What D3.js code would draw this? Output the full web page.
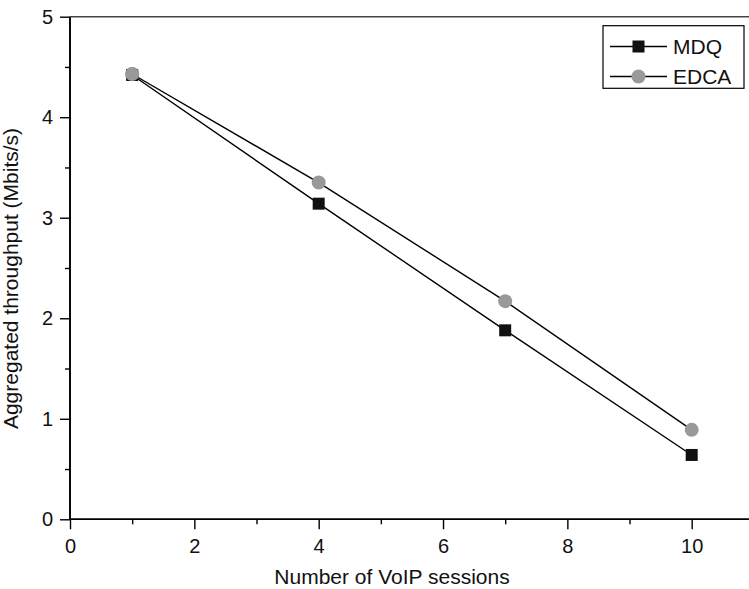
<!DOCTYPE html>
<html>
<head>
<meta charset="utf-8">
<script src="https://cdn.jsdelivr.net/npm/d3@7"></script>
<style>
  html, body { margin: 0; padding: 0; background: #fff; }
  svg { display: block; font-family: "Liberation Sans", Arial, Helvetica, sans-serif; }
</style>
</head>
<body>
<svg id="chart" width="749" height="589"></svg>
<script>
// Number of VoIP sessions
const sessions = [1, 4, 7, 10];
// Aggregated throughput (Mbits/s) per scheme
const mdq = [4.42, 3.14, 1.88, 0.64];
const edca = [4.43, 3.35, 2.17, 0.89];

const xMajorTicks = [0, 2, 4, 6, 8, 10];
const xMinorTicks = [1, 3, 5, 7, 9];
const yMajorTicks = [0, 1, 2, 3, 4, 5];
const yMinorTicks = [0.5, 1.5, 2.5, 3.5, 4.5];

const seriesNames = ["MDQ", "EDCA"];

const svg = d3.select("#chart");

const plotLeft = 70, plotTop = 16.7, plotBottom = 519.3;
const pxPerX = 62.17;
const x = d3.scaleLinear().domain([0, 11]).range([plotLeft, plotLeft + 11 * pxPerX]);
const y = d3.scaleLinear().domain([0, 5]).range([plotBottom, plotTop]);

const tickFont = 20;
const titleFont = 21;

// bottom axis
const gx = svg.append("g").attr("transform", `translate(0,${plotBottom})`);
gx.call(d3.axisBottom(x).tickValues(xMajorTicks).tickSize(10).tickPadding(10).tickFormat(d3.format("d")));
gx.append("g").call(d3.axisBottom(x).tickValues(xMinorTicks).tickSize(5).tickFormat(""));

// left axis
const gy = svg.append("g").attr("transform", `translate(${plotLeft},0)`);
gy.call(d3.axisLeft(y).tickValues(yMajorTicks).tickSize(10).tickPadding(7).tickFormat(d3.format("d")));
gy.append("g").call(d3.axisLeft(y).tickValues(yMinorTicks).tickSize(5).tickFormat(""));

svg.selectAll(".domain").attr("stroke", "#000").attr("stroke-width", 1.6);
svg.selectAll(".tick line").attr("stroke", "#000").attr("stroke-width", 1.4);
svg.selectAll(".tick text").attr("font-size", tickFont).attr("fill", "#111")
  .attr("font-family", "'Liberation Sans', Arial, sans-serif");
gx.selectAll(".domain").attr("d", `M${x(0)},0H${x(11)}`);
gy.selectAll(".domain").attr("d", `M0,${y(0)}V${y(5)}`);

// top frame line
svg.append("line")
  .attr("x1", x(0)).attr("x2", x(11))
  .attr("y1", y(5)).attr("y2", y(5))
  .attr("stroke", "#444").attr("stroke-width", 1.6);

// axis titles
svg.append("text")
  .attr("x", 392).attr("y", 583.5)
  .attr("text-anchor", "middle")
  .attr("font-size", titleFont).attr("fill", "#111")
  .text("Number of VoIP sessions");

svg.append("text")
  .attr("transform", "translate(17.5,278.5) rotate(-90)")
  .attr("text-anchor", "middle")
  .attr("font-size", titleFont).attr("fill", "#111")
  .text("Aggregated throughput (Mbits/s)");

// series lines
const line = d3.line().x((d, i) => x(sessions[i])).y(d => y(d));
[mdq, edca].forEach(vals => {
  svg.append("path")
    .datum(vals)
    .attr("d", line)
    .attr("fill", "none")
    .attr("stroke", "#000")
    .attr("stroke-width", 1.4);
});

// markers: EDCA circles, MDQ squares
svg.append("g").selectAll("circle")
  .data(edca).join("circle")
  .attr("cx", (d, i) => x(sessions[i]))
  .attr("cy", d => y(d))
  .attr("r", 7)
  .attr("fill", "#999");

const sq = 12;
svg.append("g").selectAll("rect")
  .data(mdq).join("rect")
  .attr("x", (d, i) => x(sessions[i]) - sq / 2)
  .attr("y", d => y(d) - sq / 2)
  .attr("width", sq).attr("height", sq)
  .attr("fill", "#111");

// first EDCA point sits over the first MDQ point
svg.append("circle")
  .attr("cx", x(sessions[0])).attr("cy", y(edca[0]))
  .attr("r", 7).attr("fill", "#999");

// legend
const lg = svg.append("g");
lg.append("rect")
  .attr("x", 603).attr("y", 25.7)
  .attr("width", 141).attr("height", 62.6)
  .attr("fill", "#fff").attr("stroke", "#000").attr("stroke-width", 1.2);

const rows = [46.5, 76.5];
seriesNames.forEach((name, i) => {
  const ry = rows[i];
  lg.append("line")
    .attr("x1", 610).attr("x2", 667)
    .attr("y1", ry).attr("y2", ry)
    .attr("stroke", "#000").attr("stroke-width", 1.4);
  if (i === 0) {
    lg.append("rect")
      .attr("x", 638.5 - 6).attr("y", ry - 6)
      .attr("width", 12).attr("height", 12)
      .attr("fill", "#111");
  } else {
    lg.append("circle")
      .attr("cx", 638.5).attr("cy", ry)
      .attr("r", 7).attr("fill", "#999");
  }
  lg.append("text")
    .attr("x", 673).attr("y", ry)
    .attr("dy", "0.36em")
    .attr("font-size", titleFont).attr("fill", "#111")
    .text(name);
});
</script>
</body>
</html>
